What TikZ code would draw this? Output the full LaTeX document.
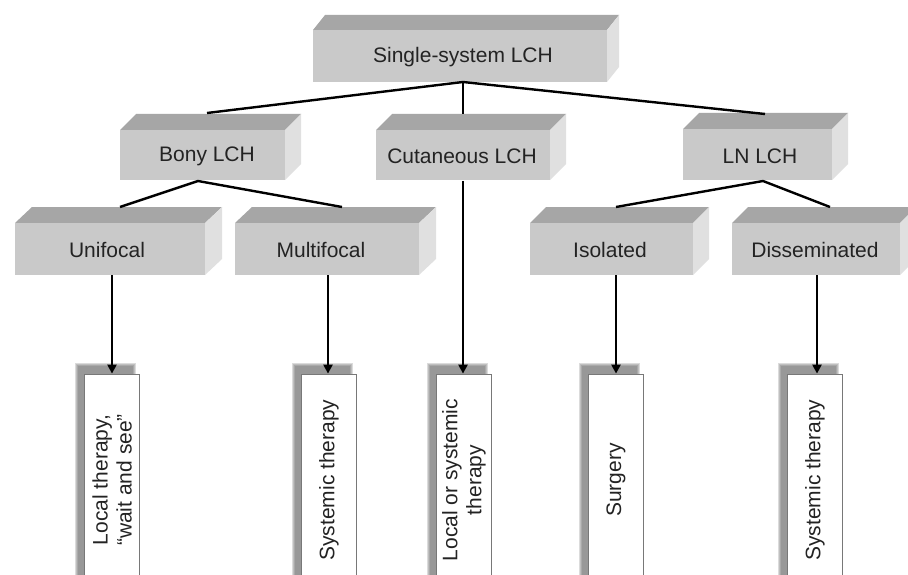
\documentclass[tikz,border=0pt]{standalone}
\usepackage{fontspec}
\setmainfont{Liberation Sans}
\usetikzlibrary{arrows.meta}
\definecolor{frontc}{RGB}{201,201,201}
\definecolor{topc}{RGB}{166,166,166}
\definecolor{sidec}{RGB}{224,224,224}
\definecolor{txtc}{RGB}{35,35,35}
\definecolor{shadowc}{RGB}{95,95,95}
\definecolor{edgec}{RGB}{120,120,120}
% #1 x1, #2 y1, #3 x2, #4 y2, #5 dx, #6 dy
\newcommand\blockfaces[6]{%
  \fill[topc] (#1,#2) -- (#1+#5,#2-#6) -- (#3+#5,#2-#6) -- (#3,#2) -- cycle;
  \fill[sidec] (#3,#2) -- (#3+#5,#2-#6) -- (#3+#5,#4-#6) -- (#3,#4) -- cycle;
  \fill[frontc] (#1,#2) rectangle (#3,#4);
}
% shadow for result boxes: #1 centre x
\newcommand\resshadow[1]{%
  \foreach \k in {3,2,1,0}{%
    \fill[shadowc,opacity=0.22] (#1-27.5-7-\k,374-8-\k) rectangle (#1+27.5-7+\k,600);
  }%
}
\tikzset{
  lab/.style={font=\fontsize{21}{24}\selectfont, text=txtc, inner sep=0pt},
  conn/.style={line width=2.4pt, black},
  arr/.style={conn, -{Triangle[length=9pt,width=9pt]}},
  resbox/.style={rotate=90, draw=edgec, line width=0.8pt, fill=white,
    minimum width=212pt, minimum height=55pt, inner sep=0pt, align=center,
    font=\fontsize{21}{24}\selectfont, text=txtc}
}
\begin{document}
\begin{tikzpicture}[x=1pt,y=-1pt]
\useasboundingbox (0,0) rectangle (908,575);
\fill[white] (0,0) rectangle (908,575);

% 3D blocks
\blockfaces{313}{30}{607}{82}{12}{15}
\blockfaces{120}{130}{285}{180}{16}{16}
\blockfaces{376}{130}{550}{180}{16}{16}
\blockfaces{683}{129}{832}{180}{16}{16}
\blockfaces{15}{223}{205}{275}{17}{16}
\blockfaces{235}{223}{419}{275}{17}{16}
\blockfaces{530}{223}{693}{275}{16}{16}
\blockfaces{732}{223}{900}{275}{16}{16}

% labels
\node[lab] (top) at (463,57) {Single-system LCH};
\node[lab] (bony) at (207,156) {Bony LCH};
\node[lab] (cut) at (462,156) {Cutaneous LCH};
\node[lab] (ln) at (760,156) {LN LCH};
\node[lab] (uni) at (107,250) {Unifocal};
\node[lab] (multi) at (321,250) {Multifocal};
\node[lab] (iso) at (610,250) {Isolated};
\node[lab] (diss) at (815,250) {Disseminated};

% connector points
\coordinate (top-b) at (463,82);
\coordinate (bony-t) at (207,113);
\coordinate (cut-t) at (463,114);
\coordinate (ln-t) at (765,114);
\coordinate (bony-b) at (198,181);
\coordinate (cut-b) at (463,181);
\coordinate (ln-b) at (763,181);
\coordinate (uni-t) at (120,207);
\coordinate (multi-t) at (342,207);
\coordinate (iso-t) at (616,207);
\coordinate (diss-t) at (830,207);
\coordinate (uni-b) at (112,275);
\coordinate (multi-b) at (328,275);
\coordinate (iso-b) at (616,275);
\coordinate (diss-b) at (817,275);

% result boxes
\resshadow{112}
\resshadow{329}
\resshadow{464}
\resshadow{616}
\resshadow{815}
\node[resbox] (r1) at (112,480) {Local therapy,\\“wait and see”};
\node[resbox] (r2) at (329,480) {Systemic therapy};
\node[resbox] (r3) at (464,480) {Local or systemic\\therapy};
\node[resbox] (r4) at (616,480) {Surgery};
\node[resbox] (r5) at (815,480) {Systemic therapy};

% connectors
\draw[conn] (bony-t) -- (top-b) -- (ln-t);
\draw[conn] (top-b) -- (cut-t);
\draw[conn] (uni-t) -- (bony-b) -- (multi-t);
\draw[conn] (iso-t) -- (ln-b) -- (diss-t);
\draw[arr] (uni-b) -- (uni-b |- r1.east);
\draw[arr] (multi-b) -- (multi-b |- r2.east);
\draw[arr] (cut-b) -- (cut-b |- r3.east);
\draw[arr] (iso-b) -- (iso-b |- r4.east);
\draw[arr] (diss-b) -- (diss-b |- r5.east);
\end{tikzpicture}
\end{document}
